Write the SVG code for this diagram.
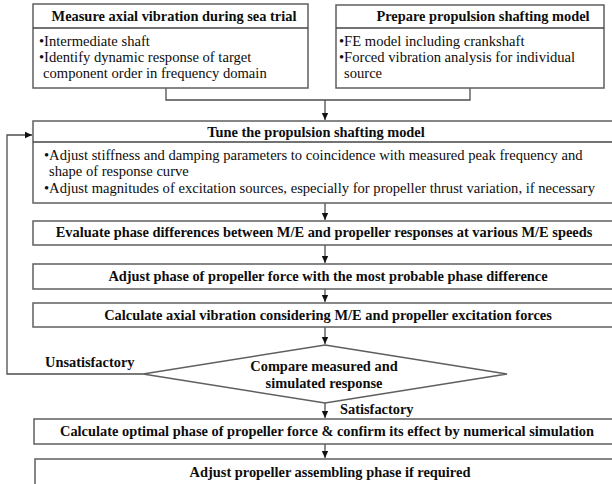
<svg xmlns="http://www.w3.org/2000/svg" width="612" height="484" viewBox="0 0 612 484">
<defs>
<marker id="ah" markerWidth="8" markerHeight="8" refX="7" refY="4" orient="auto" markerUnits="userSpaceOnUse">
<path d="M0,0.8 L7,4 L0,7.2 Z" fill="#111"/>
</marker>
</defs>
<style>
.box{fill:#fff;stroke:#5f5f5f;stroke-width:1.5}
.div{stroke:#454545;stroke-width:1.5}
.con{fill:none;stroke:#4d4d4d;stroke-width:1.3}
.hd{font-family:"Liberation Serif","Times New Roman",serif;font-weight:bold;font-size:14.4px;fill:#0d0d0d;text-anchor:middle}
.bd{font-family:"Liberation Serif","Times New Roman",serif;font-size:14.6px;fill:#0d0d0d}
.lb{font-family:"Liberation Serif","Times New Roman",serif;font-weight:bold;font-size:14.4px;fill:#0d0d0d}
</style>
<rect width="612" height="484" fill="#fff"/>
<g id="connectors">
<path class="con" d="M166,88 V100 H470 V88"/>
<path class="con" d="M325,100 V120" marker-end="url(#ah)"/>
<path class="con" d="M325,203 V220" marker-end="url(#ah)"/>
<path class="con" d="M325,245 V263" marker-end="url(#ah)"/>
<path class="con" d="M325,289 V302" marker-end="url(#ah)"/>
<path class="con" d="M325,327 V344" marker-end="url(#ah)"/>
<path class="con" d="M325,403 V418" marker-end="url(#ah)"/>
<path class="con" d="M325,444 V458" marker-end="url(#ah)"/>
<path class="con" d="M143,374 H7 V135 H32" marker-end="url(#ah)"/>
<text class="lb" x="45" y="367">Unsatisfactory</text>
<text class="lb" x="340" y="414">Satisfactory</text>
</g>
<g id="measure">
<rect class="box" x="33" y="4" width="275" height="84"/>
<line class="div" x1="33" y1="28" x2="308" y2="28"/>
<text class="hd" x="174" y="21">Measure axial vibration during sea trial</text>
<text class="bd" x="39" y="46">•Intermediate shaft</text>
<text class="bd" x="39" y="62">•Identify dynamic response of target</text>
<text class="bd" x="43" y="78">component order in frequency domain</text>
</g>
<g id="prepare">
<rect class="box" x="336" y="5" width="268" height="83"/>
<line class="div" x1="336" y1="28" x2="604" y2="28"/>
<text class="hd" x="483" y="21">Prepare propulsion shafting model</text>
<text class="bd" x="339" y="46">•FE model including crankshaft</text>
<text class="bd" x="339" y="62">•Forced vibration analysis for individual</text>
<text class="bd" x="344" y="78">source</text>
</g>
<g id="tune">
<rect class="box" x="33" y="121" width="590" height="82"/>
<line class="div" x1="33" y1="142" x2="623" y2="142"/>
<text class="hd" x="316" y="137">Tune the propulsion shafting model</text>
<text class="bd" x="44" y="160">•Adjust stiffness and damping parameters to coincidence with measured peak frequency and</text>
<text class="bd" x="49" y="176">shape of response curve</text>
<text class="bd" x="44" y="193">•Adjust magnitudes of excitation sources, especially for propeller thrust variation, if necessary</text>
</g>
<g id="evaluate">
<rect class="box" x="33" y="221" width="590" height="24"/>
<text class="hd" x="324" y="237">Evaluate phase differences between M/E and propeller responses at various M/E speeds</text>
</g>
<g id="adjust-phase">
<rect class="box" x="33" y="264" width="590" height="25"/>
<text class="hd" x="328" y="281">Adjust phase of propeller force with the most probable phase difference</text>
</g>
<g id="calc-axial">
<rect class="box" x="33" y="303" width="590" height="24"/>
<text class="hd" x="328" y="320">Calculate axial vibration considering M/E and propeller excitation forces</text>
</g>
<g id="compare">
<polygon class="box" points="325,345 507,374 325,403 143,374"/>
<text class="hd" x="324" y="371">Compare measured and</text>
<text class="hd" x="324" y="388">simulated response</text>
</g>
<g id="calc-optimal">
<rect class="box" x="34" y="419" width="590" height="25"/>
<text class="hd" x="327" y="436">Calculate optimal phase of propeller force &amp; confirm its effect by numerical simulation</text>
</g>
<g id="adjust-assembling">
<rect class="box" x="35" y="459" width="590" height="32"/>
<text class="hd" x="330" y="477">Adjust propeller assembling phase if required</text>
</g>
</svg>
